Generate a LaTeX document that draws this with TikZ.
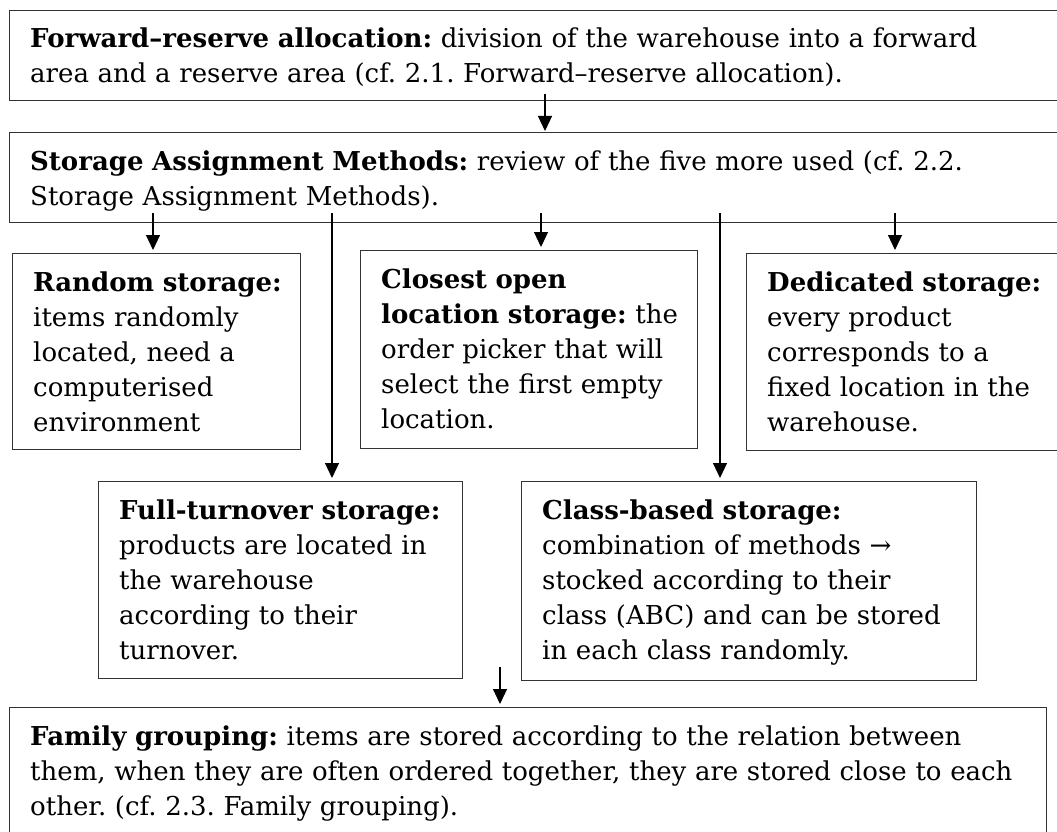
\documentclass[tikz,border=0pt]{standalone}
\usepackage{fontspec}
\setmainfont{DejaVu Serif}
\usetikzlibrary{arrows.meta}
\frenchspacing

\tikzset{
  stepbox/.style={draw=black!80, line width=1.4pt, rectangle, anchor=north west, inner sep=0pt},
  steptext/.style={anchor=base west, inner sep=0pt, text width=1000pt, align=left, font=\fontsize{26}{35}\selectfont},
  arr/.style={-{Triangle[length=15pt,width=14pt]}, line width=1.2pt, shorten >=3pt},
}

\begin{document}
\begin{tikzpicture}[x=1pt,y=-1pt]
  \useasboundingbox (0,0) rectangle (1057,832);
  \clip (0,0) rectangle (1057,832);

  \node [stepbox, minimum width=1091pt, minimum height=90pt] (fwd) at (9,10) {};
  \node [steptext] (fwd-t) at ([shift={(21,38)}]fwd.north west) {\textbf{Forward--reserve allocation:} division of the warehouse into a forward\\area and a reserve area (cf. 2.1. Forward--reserve allocation).};

  \node [stepbox, minimum width=1091pt, minimum height=90pt] (sam) at (9,132) {};
  \node [steptext] (sam-t) at ([shift={(21,38)}]sam.north west) {\textbf{Storage Assignment Methods:} review of the five more used (cf. 2.2.\\Storage Assignment Methods).};

  %%

  \node [stepbox, minimum width=288pt, minimum height=196pt] (rnd) at (12,253) {};
  \node [steptext] (rnd-t) at ([shift={(21,38)}]rnd.north west) {\textbf{Random storage:}\\items randomly\\located, need a\\computerised\\environment};

  \node [stepbox, minimum width=337pt, minimum height=198pt] (cop) at (360,250) {};
  \node [steptext] (cop-t) at ([shift={(21,38)}]cop.north west) {\textbf{Closest open}\\\textbf{location storage:} the\\order picker that will\\select the first empty\\location.};

  \node [stepbox, minimum width=400pt, minimum height=197pt] (ded) at (746,253) {};
  \node [steptext] (ded-t) at ([shift={(21,38)}]ded.north west) {\textbf{Dedicated storage:}\\every product\\corresponds to a\\fixed location in the\\warehouse.};

  %%

  \node [stepbox, minimum width=364pt, minimum height=197pt] (ftn) at (98,481) {};
  \node [steptext] (ftn-t) at ([shift={(21,38)}]ftn.north west) {\textbf{Full-turnover storage:}\\products are located in\\the warehouse\\according to their\\turnover.};

  \node [stepbox, minimum width=455pt, minimum height=199pt] (cbs) at (521,481) {};
  \node [steptext] (cbs-t) at ([shift={(21,38)}]cbs.north west) {\textbf{Class-based storage:}\\combination of methods →\\stocked according to their\\class (ABC) and can be stored\\in each class randomly.};

  %%

  \node [stepbox, minimum width=1037pt, minimum height=200pt] (fam) at (9,707) {};
  \node [steptext] (fam-t) at ([shift={(21,38)}]fam.north west) {\textbf{Family grouping:} items are stored according to the relation between\\them, when they are often ordered together, they are stored close to each\\other. (cf. 2.3. Family grouping).};

  %% connectors
  \coordinate (s1) at (545,94);
  \coordinate (s2) at (153,213);
  \coordinate (s3) at (332,213);
  \coordinate (s4) at (541,213);
  \coordinate (s5) at (720,213);
  \coordinate (s6) at (895,213);
  \coordinate (s7) at (500,667);

  \draw [arr, shorten >=1pt] (s1) -- (s1 |- sam.north);
  \draw [arr] (s2) -- (s2 |- rnd.north);
  \draw [arr] (s3) -- (s3 |- ftn.north);
  \draw [arr] (s4) -- (s4 |- cop.north);
  \draw [arr] (s5) -- (s5 |- cbs.north);
  \draw [arr] (s6) -- (s6 |- ded.north);
  \draw [arr] (s7) -- (s7 |- fam.north);

\end{tikzpicture}
\end{document}
